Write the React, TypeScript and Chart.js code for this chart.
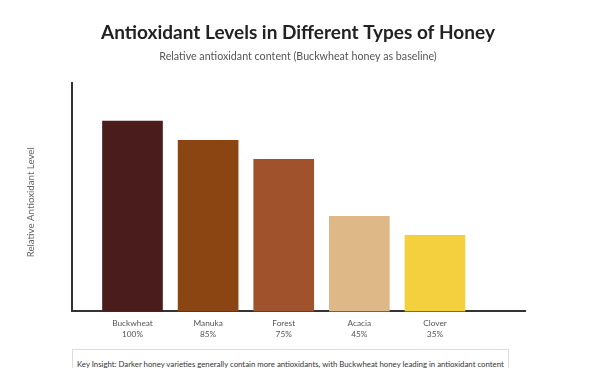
import React, { useEffect, useRef } from "react";
import { Chart, registerables } from "chart.js";

Chart.register(...registerables);

const categories = ["Buckwheat", "Manuka", "Forest", "Acacia", "Clover"];
const barValues = [100, 90, 80, 50, 40];
const percentLabels = ["100%", "85%", "75%", "45%", "35%"];
const barColors = ["#4A1C1C", "#8B4513", "#A0522D", "#DEB887", "#F4D03F"];

const titleText = "Antioxidant Levels in Different Types of Honey";
const subtitleText = "Relative antioxidant content (Buckwheat honey as baseline)";
const yTitleText = "Relative Antioxidant Level";
const insightText =
  "Key Insight: Darker honey varieties generally contain more antioxidants, with Buckwheat honey leading in antioxidant content";

const FONT = "Lato, 'Open Sans', sans-serif";

const yTitlePlugin = {
  id: "yTitlePlugin",
  afterDraw(chart: any) {
    const { ctx, chartArea } = chart;
    ctx.save();
    ctx.font = `9.7px ${FONT}`;
    ctx.fillStyle = "#666";
    ctx.textAlign = "center";
    ctx.textBaseline = "middle";
    ctx.translate(23, (chartArea.top + chartArea.bottom) / 2 + 5);
    ctx.rotate(-Math.PI / 2);
    ctx.fillText(yTitleText, 0, 0);
    ctx.restore();
  },
};

export default function App() {
  const ref = useRef<HTMLCanvasElement>(null);

  useEffect(() => {
    const chart = new Chart(ref.current as HTMLCanvasElement, {
      type: "bar",
      data: {
        datasets: [
          {
            data: barValues.map((v, i) => ({ x: i, y: v })),
            backgroundColor: barColors,
            barThickness: 60,
          },
        ],
      },
      plugins: [yTitlePlugin],
      options: {
        animation: false,
        responsive: false,
        layout: { padding: { left: 12, right: 12, top: 13, bottom: 2 } },
        plugins: {
          legend: { display: false },
          tooltip: { enabled: false },
          title: {
            display: true,
            text: titleText,
            font: { family: FONT, size: 19, weight: "bold" },
            color: "#222",
            padding: { top: 0, bottom: 3 },
          },
          subtitle: {
            display: true,
            text: subtitleText,
            font: { family: FONT, size: 10.7 },
            color: "#555",
            padding: { top: 3.5, bottom: 20 },
          },
        },
        scales: {
          x: {
            type: "linear",
            min: -0.8,
            max: 5.2,
            offset: false,
            grid: { display: false, drawTicks: false },
            border: { display: true, color: "#333", width: 2 },
            afterBuildTicks: (axis: any) => {
              axis.ticks = categories.map((_, i) => ({ value: i }));
            },
            ticks: {
              autoSkip: false,
              maxRotation: 0,
              padding: 7,
              color: "#555",
              font: { family: FONT, size: 8.3, lineHeight: 1.3 },
              callback: (_v: any, i: number) => [categories[i], percentLabels[i]],
            },
          },
          y: {
            min: 0,
            max: 120,
            grid: { display: false, drawTicks: false },
            ticks: { display: false },
            border: { display: true, color: "#333", width: 2 },
            afterFit: (s: any) => {
              s.width = 52;
            },
          },
          y2: {
            type: "linear",
            position: "right",
            display: true,
            grid: { display: false, drawTicks: false },
            ticks: { display: false },
            border: { display: false },
            afterFit: (s: any) => {
              s.width = 50.3;
            },
          },
        },
      },
    } as any);
    return () => chart.destroy();
  }, []);

  return (
    <div style={{ position: "relative", width: 580, height: 360 }}>
      <canvas ref={ref} width={580} height={341} style={{ display: "block" }} />
      <div
        style={{
          position: "absolute",
          left: 64,
          top: 341,
          height: 30,
          boxSizing: "border-box",
          border: "1px solid #ddd",
          padding: "0 4px",
          lineHeight: "28px",
          fontFamily: FONT,
          fontSize: 7.8,
          color: "#333",
          whiteSpace: "nowrap",
        }}
      >
        {insightText}
      </div>
    </div>
  );
}
